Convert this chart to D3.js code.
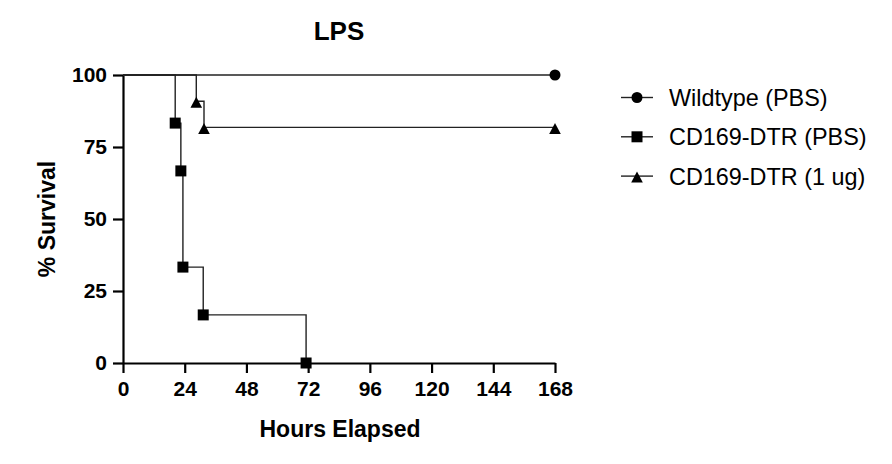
<!DOCTYPE html>
<html>
<head>
<meta charset="utf-8">
<script src="https://cdn.jsdelivr.net/npm/d3@7"></script>
<style>
  html, body { margin: 0; padding: 0; background: #fff; }
  svg { display: block; }
  text { font-family: "Liberation Sans", Arial, sans-serif; fill: #000; }
</style>
</head>
<body>
<svg id="chart" width="892" height="464"></svg>
<script>
// ---- data ----
const xTicks = [0, 24, 48, 72, 96, 120, 144, 168];
const yTicks = [0, 25, 50, 75, 100];
const seriesNames = ["Wildtype (PBS)", "CD169-DTR (PBS)", "CD169-DTR (1 ug)"];
const seriesSymbols = ["circle", "square", "triangle"];
const wtTime = [0, 168];
const wtSurv = [100, 100];
const pbsTime = [0, 20.3, 22.5, 23.3, 31.2, 71.2];
const pbsSurv = [100, 83.3, 66.7, 33.3, 16.7, 0];
const ugTime = [0, 28.5, 31.5, 168];
const ugSurv = [100, 90.9, 81.8, 81.8];

const seriesTimes = [wtTime, pbsTime, ugTime];
const seriesSurvs = [wtSurv, pbsSurv, ugSurv];

// ---- layout ----
const svg = d3.select("#chart");
const mLeft = 123, mRight = 555, mTop = 75, mBottom = 363;
const x = d3.scaleLinear().domain([0, 168]).range([mLeft, mRight]);
const y = d3.scaleLinear().domain([0, 100]).range([mBottom, mTop]);

function symbolPath(kind) {
  if (kind === "circle") return d3.symbol(d3.symbolCircle, Math.PI * 5.5 * 5.5)();
  if (kind === "square") return "M-5.5,-5.5H5.5V5.5H-5.5Z";
  return "M0,-4.5L5.8,6.5L-5.8,6.5Z";
}

// title
svg.append("text").attr("x", 339).attr("y", 40).attr("text-anchor", "middle")
  .style("font-size", "26px").style("font-weight", "bold").text("LPS");

// axes
const xAxis = d3.axisBottom(x).tickValues(xTicks).tickSize(10).tickSizeOuter(0).tickPadding(8);
const yAxis = d3.axisLeft(y).tickValues(yTicks).tickSize(10).tickSizeOuter(0).tickPadding(6);

const gx = svg.append("g").attr("transform", `translate(0,${mBottom})`).call(xAxis);
const gy = svg.append("g").attr("transform", `translate(${mLeft},0)`).call(yAxis);
[gx, gy].forEach(g => {
  g.select(".domain").attr("stroke", "#000").attr("stroke-width", 2.2);
  g.selectAll(".tick line").attr("stroke", "#000").attr("stroke-width", 2.2);
  g.selectAll(".tick text").style("font-size", "21px").style("font-weight", "bold")
    .style("font-family", '"Liberation Sans", Arial, sans-serif').attr("fill", "#000");
});

// axis titles
svg.append("text").attr("x", 340).attr("y", 437).attr("text-anchor", "middle")
  .style("font-size", "23px").style("font-weight", "bold").text("Hours Elapsed");
svg.append("text").attr("transform", "translate(55,219) rotate(-90)").attr("text-anchor", "middle")
  .style("font-size", "23px").style("font-weight", "bold").text("% Survival");

// curves
const line = d3.line().curve(d3.curveStepAfter).x(d => x(d[0])).y(d => y(d[1]));
seriesNames.forEach((name, i) => {
  const pts = seriesTimes[i].map((t, j) => [t, seriesSurvs[i][j]]);
  svg.append("path").datum(pts).attr("d", line)
    .attr("fill", "none").attr("stroke", "#222").attr("stroke-width", 1.4);
  svg.selectAll(null).data(pts.slice(1)).enter().append("path")
    .attr("transform", d => `translate(${x(d[0])},${y(d[1])})`)
    .attr("d", symbolPath(seriesSymbols[i])).attr("fill", "#000");
});

// legend
const lg = svg.append("g");
seriesNames.forEach((name, i) => {
  const cy = 97.5 + i * 39.3;
  lg.append("line").attr("x1", 621).attr("x2", 653).attr("y1", cy).attr("y2", cy)
    .attr("stroke", "#222").attr("stroke-width", 1.4);
  lg.append("path").attr("transform", `translate(637,${cy})`).attr("d", symbolPath(seriesSymbols[i])).attr("fill", "#000");
  lg.append("text").attr("x", 669).attr("y", cy).attr("dy", "0.36em")
    .style("font-size", "23.4px").text(name);
});
</script>
</body>
</html>
